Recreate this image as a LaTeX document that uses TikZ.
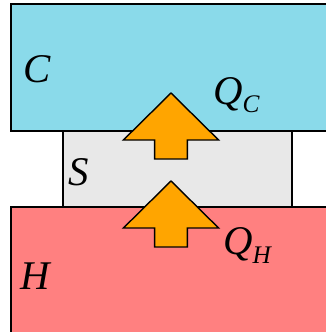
\documentclass[tikz,border=0pt]{standalone}
\usepackage{fontspec}
\setmainfont{Liberation Serif}
\usepackage{xcolor}
\usepackage{tikz}
\usetikzlibrary{positioning}

\definecolor{coldblue}{RGB}{138,218,234}
\definecolor{hotred}{RGB}{255,128,128}
\definecolor{sysgray}{RGB}{232,232,232}
\definecolor{flowor}{RGB}{255,165,0}

\newcommand{\lowidx}[1]{\raisebox{-0.2em}{\fontsize{18}{18}\selectfont\itshape #1}}

\tikzset{
  bath/.style={draw=black, line width=1pt},
  heatarrow/.style={draw=black, fill=flowor, line width=1pt, line join=miter},
  lbl/.style={anchor=base west, inner sep=0pt, font=\fontsize{29}{30}\selectfont\itshape}
}

\begin{document}
\begin{tikzpicture}
          \useasboundingbox (0,0) rectangle (8.15,8.3);
          \clip (0,0) rectangle (8.15,8.3);

          % reservoirs and system
          \draw[bath, fill=coldblue] (0.275,8.2) rectangle (8.6,5.025);
          \draw[bath, fill=hotred] (0.275,3.125) rectangle (8.6,-0.5);
          \draw[bath, fill=sysgray] (1.575,5.025) rectangle (7.3,3.125);

          % heat flow
          \foreach \ty in {5.975, 3.775}
            \draw[heatarrow] (4.275,\ty) -- ++(1.19,-1.175) -- ++(-0.78,0) -- ++(0,-0.475)
              -- ++(-0.82,0) -- ++(0,0.475) -- ++(-0.78,0) -- cycle;

          \node[lbl] (cold) at (0.575,6.25) {C};
          \node[lbl] (sys) at (1.7,3.675) {S};
          \node[lbl] (hot) at (0.5,1.075) {H};
          \node[lbl] (qc) at (5.325,5.7) {Q\lowidx{C}};
          \node[lbl] (qh) at (5.575,1.925) {Q\lowidx{H}};
        \end{tikzpicture}
\end{document}
